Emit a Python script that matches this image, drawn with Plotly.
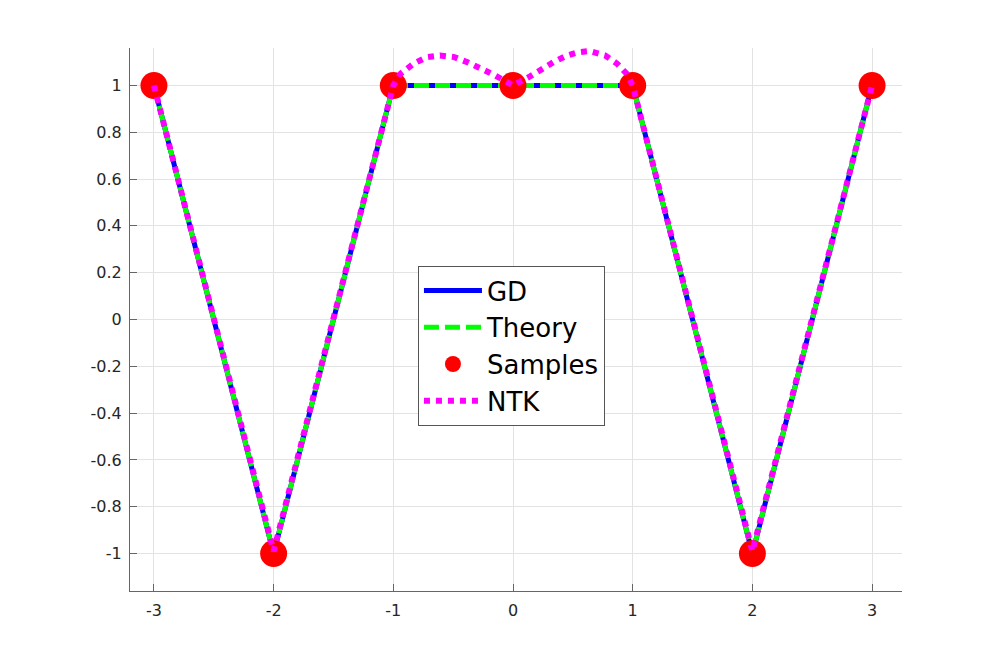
import plotly.graph_objects as go

# sample points (also the GD / Theory piecewise-linear fit)
x_samples = [-3, -2, -1, 0, 1, 2, 3]
y_samples = [1, -1, 1, 1, 1, -1, 1]

x_gd = [-3, -2, -1, 0, 1, 2, 3]
y_gd = [1, -1, 1, 1, 1, -1, 1]

x_theory = [-3, -2, -1, 0, 1, 2, 3]
y_theory = [1, -1, 1, 1, 1, -1, 1]

# NTK interpolant (bumps between -1 and 1)
x_ntk = [-3, -2, -1, -0.94, -0.83, -0.72, -0.61, -0.49, -0.37, -0.26, -0.15, -0.05, 0,
         0.13, 0.24, 0.34, 0.45, 0.545, 0.64, 0.77, 0.87, 0.95, 1, 2, 3]
y_ntk = [1, -0.99, 1, 1.05, 1.093, 1.121, 1.128, 1.121, 1.097, 1.071, 1.043, 1.014, 1.0,
         1.035, 1.071, 1.1, 1.128, 1.142, 1.147, 1.128, 1.093, 1.05, 1.0, -0.99, 1]

x_ticks = [-3, -2, -1, 0, 1, 2, 3]
x_ticktext = ["-3", "-2", "-1", "0", "1", "2", "3"]
y_ticks = [-1, -0.8, -0.6, -0.4, -0.2, 0, 0.2, 0.4, 0.6, 0.8, 1]
y_ticktext = ["-1", "-0.8", "-0.6", "-0.4", "-0.2", "0", "0.2", "0.4", "0.6", "0.8", "1"]

fig = go.Figure()
fig.add_trace(go.Scatter(x=x_gd, y=y_gd, mode="lines", name="GD",
                         line=dict(color="#0000ff", width=5)))
fig.add_trace(go.Scatter(x=x_theory, y=y_theory, mode="lines", name="Theory",
                         line=dict(color="#00ff00", width=5, dash="15px,6px")))
fig.add_trace(go.Scatter(x=x_samples, y=y_samples, mode="markers", name="Samples",
                         marker=dict(color="#ff0000", size=27, line=dict(width=0))))
fig.add_trace(go.Scatter(x=x_ntk, y=y_ntk, mode="lines", name="NTK",
                         line=dict(color="#ff00ff", width=6, dash="6px,6px")))

axis_common = dict(showgrid=True, gridcolor="#e3e3e3", gridwidth=1,
                   zeroline=False, showline=True, linecolor="#666666", linewidth=1,
                   ticks="inside", ticklen=7, tickcolor="#666666",
                   tickfont=dict(family="DejaVu Sans", size=16, color="#262626"))

# page body adds ~8px offset, so figure is 8px smaller with margins shifted
fig.update_layout(
    width=989, height=656,
    paper_bgcolor="white", plot_bgcolor="white",
    margin=dict(l=122, r=95, t=40, b=73),
    xaxis=dict(range=[-3.2, 3.25], tickvals=x_ticks, ticktext=x_ticktext,
               ticklabelstandoff=5, **axis_common),
    yaxis=dict(range=[-1.16, 1.16], tickvals=y_ticks, ticktext=y_ticktext,
               ticklabelstandoff=4, **axis_common),
    legend=dict(x=0.373, y=0.5985, xanchor="left", yanchor="top",
                bgcolor="white", bordercolor="#555555", borderwidth=1,
                font=dict(family="DejaVu Sans", size=26, color="black"),
                itemwidth=58, tracegroupgap=0),
    showlegend=True,
)

fig.write_html("out.html")
